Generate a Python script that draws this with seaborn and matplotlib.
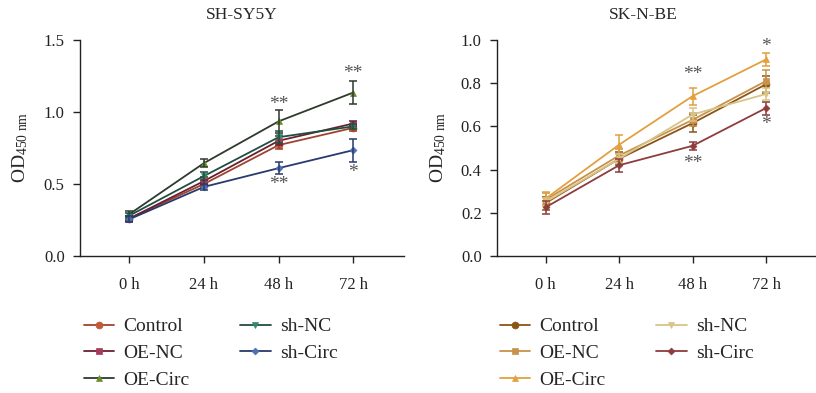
import numpy as np
import pandas as pd
import matplotlib
matplotlib.use("Agg")
import matplotlib.pyplot as plt
import seaborn as sns

# time points and groups
times = ["0 h", "24 h", "48 h", "72 h"]
groups = ["Control", "OE-NC", "OE-Circ", "sh-NC", "sh-Circ"]
markers = ["o", "s", "^", "v", "D"]

# SH-SY5Y OD450 values
sy5y_control = [0.26, 0.50, 0.77, 0.89]
sy5y_oenc = [0.26, 0.52, 0.80, 0.92]
sy5y_oecirc = [0.29, 0.645, 0.935, 1.135]
sy5y_shnc = [0.28, 0.555, 0.825, 0.90]
sy5y_shcirc = [0.255, 0.48, 0.61, 0.735]
sy5y_err = [
    [0.02, 0.02, 0.03, 0.02],
    [0.02, 0.03, 0.03, 0.02],
    [0.02, 0.03, 0.08, 0.08],
    [0.02, 0.03, 0.04, 0.02],
    [0.02, 0.02, 0.04, 0.08],
]

# SK-N-BE OD450 values
be_control = [0.245, 0.45, 0.615, 0.795]
be_oenc = [0.26, 0.465, 0.63, 0.81]
be_oecirc = [0.265, 0.515, 0.74, 0.91]
be_shnc = [0.25, 0.45, 0.655, 0.75]
be_shcirc = [0.225, 0.42, 0.51, 0.685]
be_err = [
    [0.03, 0.03, 0.04, 0.04],
    [0.03, 0.03, 0.03, 0.05],
    [0.03, 0.045, 0.04, 0.03],
    [0.02, 0.02, 0.03, 0.03],
    [0.03, 0.03, 0.02, 0.03],
]

# significance marks: (time index, y, text)
sy5y_stars = [(2, 1.055, "**"), (3, 1.265, "**"), (2, 0.50, "**"), (3, 0.58, "*")]
be_stars = [(2, 0.84, "**"), (3, 0.97, "*"), (2, 0.43, "**"), (3, 0.61, "*")]

# colours: (line, marker)
sy5y_colors = [("#a0432e", "#c05a3a"), ("#6b1f33", "#a83a5c"), ("#2e3a2e", "#6a8f2a"),
               ("#1f4f3f", "#2e8a6a"), ("#2a3a6a", "#4a72b8")]
be_colors = [("#8b5518", "#8b5518"), ("#c8924a", "#c8924a"), ("#e3a040", "#e3a040"),
             ("#d8c486", "#d8c486"), ("#8e3c3c", "#8e3c3c")]

sns.set_style("ticks")
plt.rcParams["font.family"] = ["Liberation Serif", "DejaVu Serif"]
plt.rcParams["mathtext.fontset"] = "custom"
plt.rcParams["mathtext.rm"] = "Liberation Serif"
plt.rcParams["mathtext.it"] = "Liberation Serif:italic"

fig = plt.figure(figsize=(8.16, 3.93), dpi=100)
ax1 = fig.add_axes([80 / 816, 1 - 256 / 393, 324 / 816, 216 / 393])
ax2 = fig.add_axes([497 / 816, 1 - 256 / 393, 319 / 816, 216 / 393])


def draw_panel(ax, series, errs, colors, stars, ymax, yticks, title, title_x, ylab_x, leg_x):
    x = np.arange(len(times))
    for name, vals, err, (lc, mc), m in zip(groups, series, errs, colors, markers):
        df = pd.DataFrame({"time": x, "od": vals})
        ms = 3.5 if m == "D" else 5
        sns.lineplot(data=df, x="time", y="od", ax=ax, color=lc, lw=1.3,
                     marker=m, markersize=ms, markerfacecolor=mc,
                     markeredgecolor=mc, markeredgewidth=0.5, label=name)
        ax.errorbar(x, vals, yerr=err, fmt="none", ecolor=lc, elinewidth=1.3,
                    capsize=3, capthick=1.3, alpha=0.85)
    for xi, yv, t in stars:
        ax.text(xi, yv, t, ha="center", va="center", fontsize=14, color="#555555")
    ax.set_xlim(-0.66, 3.68)
    ax.set_ylim(0, ymax)
    ax.set_xticks(x)
    ax.set_xticklabels(times)
    ax.set_yticks(yticks)
    ax.set_yticklabels([f"{v:.1f}" for v in yticks])
    ax.set_xlabel("")
    ax.set_ylabel("")
    sns.despine(ax=ax)
    for sp in ["left", "bottom"]:
        ax.spines[sp].set_linewidth(1.0)
        ax.spines[sp].set_color("#222222")
    ax.tick_params(axis="both", labelsize=12, length=5, width=1.0, colors="#222222", pad=6)
    ax.tick_params(axis="x", pad=10)
    fig.text(title_x, 1 - 15 / 393, title, ha="center", va="center", fontsize=12.5)
    fig.text(ylab_x, 0.5 + 0.125, "OD$_{450\\ \\mathrm{nm}}$", rotation=90,
             ha="center", va="center", fontsize=14)
    ax.legend(loc="upper left", bbox_to_anchor=(leg_x, 1 - 308 / 393),
              bbox_transform=fig.transFigure, ncol=2, frameon=False,
              fontsize=14, borderpad=0, handlelength=1.55, handletextpad=0.5,
              columnspacing=2.6, labelspacing=0.48)


draw_panel(ax1, [sy5y_control, sy5y_oenc, sy5y_oecirc, sy5y_shnc, sy5y_shcirc],
           sy5y_err, sy5y_colors, sy5y_stars, 1.5, [0.0, 0.5, 1.0, 1.5],
           "SH-SY5Y", 242 / 816, 20 / 816, 74 / 816)
draw_panel(ax2, [be_control, be_oenc, be_oecirc, be_shnc, be_shcirc],
           be_err, be_colors, be_stars, 1.0, [0.0, 0.2, 0.4, 0.6, 0.8, 1.0],
           "SK-N-BE", 643 / 816, 438 / 816, 490 / 816)

fig.savefig("out.png", dpi=100)
